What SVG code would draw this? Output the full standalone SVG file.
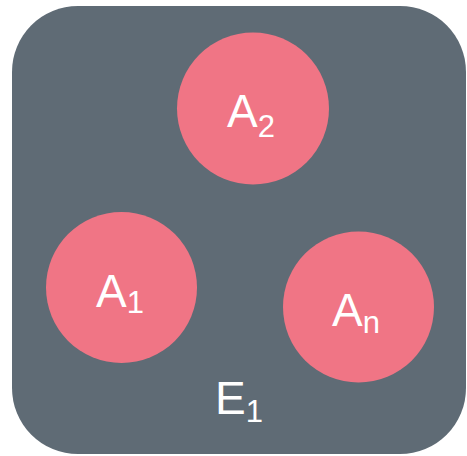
<svg xmlns="http://www.w3.org/2000/svg" width="467" height="456" viewBox="0 0 467 456">
<style>
.set{fill:#5f6b75}
.el{fill:#f07585}
.lb{fill:#ffffff;font-family:"Liberation Sans",Arial,sans-serif;font-size:46px}
.sub{font-size:31px}
</style>
<g id="E1">
<rect class="set" x="12" y="6" width="454" height="448" rx="66" ry="66"/>
<text class="lb" x="215" y="414">E<tspan class="sub" dy="8">1</tspan></text>
</g>
<g id="A2">
<circle class="el" cx="253" cy="108.5" r="76"/>
<text class="lb" x="227" y="127">A<tspan class="sub" dy="10">2</tspan></text>
</g>
<g id="A1">
<circle class="el" cx="121.5" cy="287.5" r="75.5"/>
<text class="lb" x="96" y="307">A<tspan class="sub" dy="6">1</tspan></text>
</g>
<g id="An">
<circle class="el" cx="358.5" cy="307" r="75.5"/>
<text class="lb" x="332" y="326">A<tspan class="sub" dy="7">n</tspan></text>
</g>
<g id="connectors"></g>
</svg>
